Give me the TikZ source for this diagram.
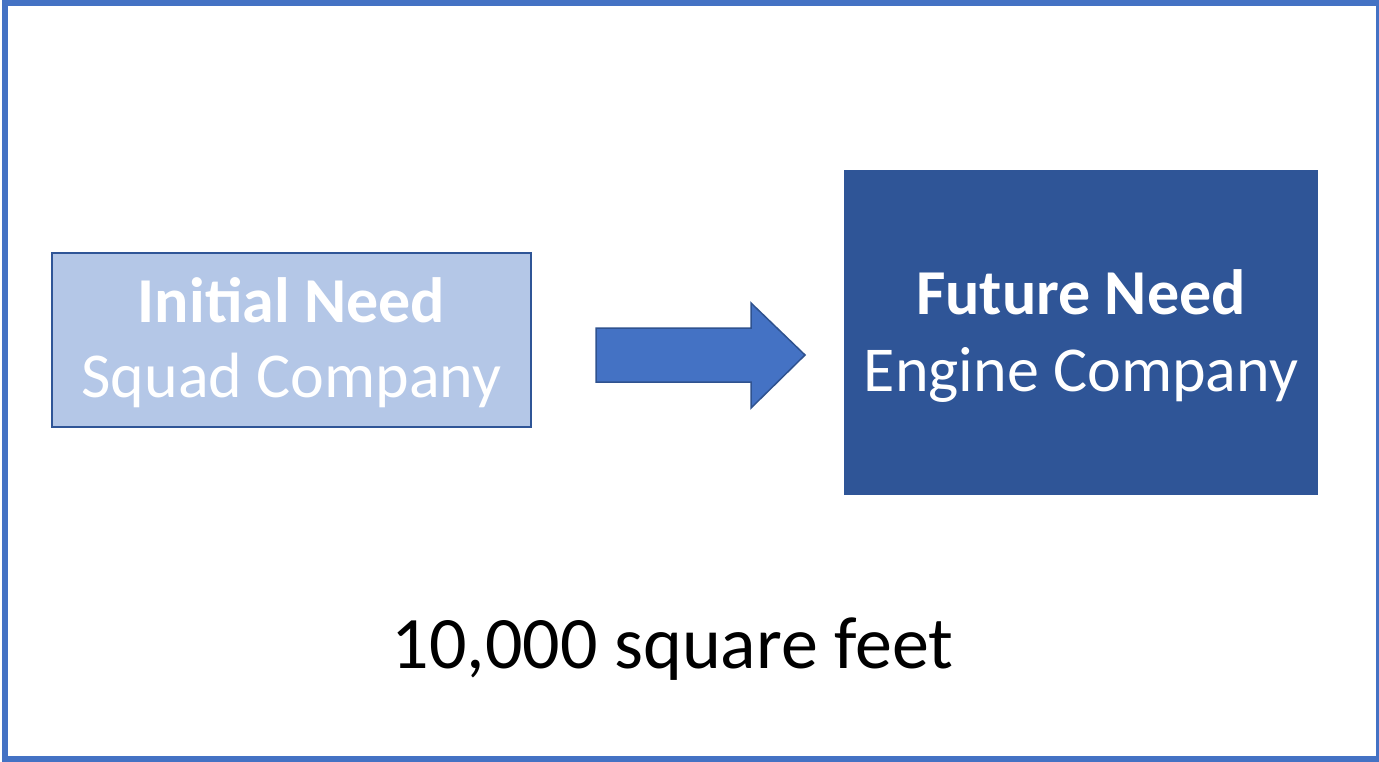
\documentclass[tikz,border=0pt]{standalone}
\usepackage{fontspec}
\setmainfont{Carlito}
\definecolor{paleblue}{HTML}{B4C7E7}
\definecolor{deepblue}{HTML}{2F5597}
\definecolor{midblue}{HTML}{4472C4}
\definecolor{edgeblue}{HTML}{2F528F}
\tikzset{
  needbox/.style={rectangle, inner sep=0pt, minimum width=#1},
  pastbox/.style={needbox=479pt, minimum height=174pt, fill=paleblue, draw=deepblue, line width=2pt},
  nextbox/.style={needbox=474pt, minimum height=325pt, fill=deepblue},
  headline/.style={anchor=base, inner sep=0pt, text=white, font=\fontsize{64}{77}\selectfont\bfseries},
  subline/.style={anchor=base, inner sep=0pt, text=white, font=\fontsize{64}{77}\selectfont},
  blockarrow/.style={fill=midblue, draw=edgeblue, line width=1.5pt, line join=miter},
  frame/.style={draw=midblue, line width=6pt},
}
\begin{document}
\begin{tikzpicture}[x=1pt, y=-1pt]
  \useasboundingbox (0,0) rectangle (1379,761);
  \clip (0,0) rectangle (1379,761);
  \fill[white] (0,0) rectangle (1379,761);
  \draw[frame] (5,3) rectangle (1379,759);

  % the two boxes
  \node[pastbox] (initial) at (291.5,340) {};
  \node[nextbox] (future) at (1081,332.5) {};

  % box texts
  \node[headline] (initialhead) at (initial.center |- 0,322.7) {Initial Need};
  \node[subline] (initialsub) at (initial.center |- 0,397) {Squad Company};
  \node[headline] (futurehead) at (future.center |- 0,314) {Future Need};
  \node[subline] (futuresub) at (future.center |- 0,391) {Engine Company};

  % block arrow between the boxes
  \coordinate (tail) at (596,355);
  \coordinate (tip) at (805,355);
  \draw[blockarrow] (tail) ++(0,-27) -- (751,328) -- (751,303) -- (tip)
    -- (751,408) -- (751,382) -- (596,382) -- cycle;

  % caption
  \node[anchor=base, inner sep=0pt, font=\fontsize{74}{88}\selectfont] (area) at (672.5,668) {10,000 square feet};
\end{tikzpicture}
\end{document}
